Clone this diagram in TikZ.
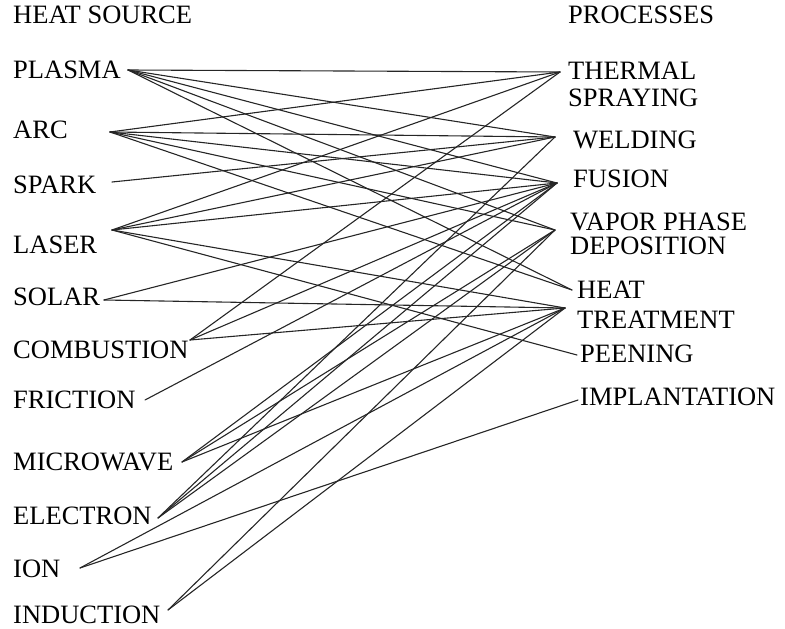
\documentclass[tikz,border=0pt]{standalone}
\usepackage{fontspec}
\setmainfont{Liberation Serif}
\usetikzlibrary{positioning}

\begin{document}
\begin{tikzpicture}[x=1pt, y=-1pt,
    src/.style={anchor=west, inner sep=0pt, font=\fontsize{26.5}{27}\selectfont},
    proc/.style={anchor=west, inner sep=0pt, font=\fontsize{26.5}{27}\selectfont, align=left},
    link/.style={line width=1.1pt, black!85, line cap=round}
]
\useasboundingbox (0,0) rectangle (785,629);

% headings
\node[src] (srchead) at (13,15) {HEAT SOURCE};
\node[proc] (prochead) at (568,15) {PROCESSES};

% heat sources
\node[src] (plasma) at (13,70) {PLASMA};
\node[src] (arc) at (13,130) {ARC};
\node[src] (spark) at (13,185) {SPARK};
\node[src] (laser) at (13,245) {LASER};
\node[src] (solar) at (13,297) {SOLAR};
\node[src] (comb) at (13,350) {COMBUSTION};
\node[src] (fric) at (13,400) {FRICTION};
\node[src] (micro) at (13,462) {MICROWAVE};
\node[src] (elec) at (13,516) {ELECTRON};
\node[src] (ion) at (13,569) {ION};
\node[src] (induc) at (13,615) {INDUCTION};

% processes
\node[proc] (ts) at (568,84) {THERMAL\\SPRAYING};
\node[proc] (weld) at (573,140) {WELDING};
\node[proc] (fus) at (573,179) {FUSION};
\node[proc] (vpd) at (570,234) {VAPOR PHASE\\[-3pt]DEPOSITION};
\node[proc] (ht) at (577,305) {HEAT\\[3pt]TREATMENT};
\node[proc] (peen) at (580,354) {PEENING};
\node[proc] (impl) at (580,397) {IMPLANTATION};

% line ends
\coordinate (plasma-o) at (128,70);
\coordinate (arc-o) at (110,132);
\coordinate (spark-o) at (112,182);
\coordinate (laser-o) at (112,230);
\coordinate (solar-o) at (104,300);
\coordinate (comb-o) at (190,340);
\coordinate (fric-o) at (145,400);
\coordinate (micro-o) at (182,462);
\coordinate (elec-o) at (158,518);
\coordinate (ion-o) at (80,568);
\coordinate (induc-o) at (168,610);

\coordinate (ts-i) at (560,72);
\coordinate (weld-i) at (555,137);
\coordinate (fus-i) at (557,183);
\coordinate (vpd-i) at (555,230);
\coordinate (heat-i) at (572,290);
\coordinate (treat-i) at (565,308);
\coordinate (peen-i) at (577,355);
\coordinate (impl-i) at (578,400);

% links
\draw[link] (plasma-o) -- (ts-i);
\draw[link] (plasma-o) -- (weld-i);
\draw[link] (plasma-o) -- (fus-i);
\draw[link] (plasma-o) -- (vpd-i);
\draw[link] (plasma-o) -- (heat-i);
\draw[link] (arc-o) -- (ts-i);
\draw[link] (arc-o) -- (weld-i);
\draw[link] (arc-o) -- (fus-i);
\draw[link] (arc-o) -- (vpd-i);
\draw[link] (arc-o) -- (heat-i);
\draw[link] (spark-o) -- (weld-i);
\draw[link] (laser-o) -- (ts-i);
\draw[link] (laser-o) -- (weld-i);
\draw[link] (laser-o) -- (fus-i);
\draw[link] (laser-o) -- (treat-i);
\draw[link] (laser-o) -- (peen-i);
\draw[link] (solar-o) -- (fus-i);
\draw[link] (solar-o) -- (treat-i);
\draw[link] (comb-o) -- (ts-i);
\draw[link] (comb-o) -- (fus-i);
\draw[link] (comb-o) -- (treat-i);
\draw[link] (fric-o) -- (fus-i);
\draw[link] (micro-o) -- (fus-i);
\draw[link] (micro-o) -- (vpd-i);
\draw[link] (micro-o) -- (treat-i);
\draw[link] (elec-o) -- (weld-i);
\draw[link] (elec-o) -- (fus-i);
\draw[link] (elec-o) -- (vpd-i);
\draw[link] (ion-o) -- (treat-i);
\draw[link] (ion-o) -- (impl-i);
\draw[link] (induc-o) -- (vpd-i);
\draw[link] (induc-o) -- (treat-i);

\end{tikzpicture}
\end{document}
